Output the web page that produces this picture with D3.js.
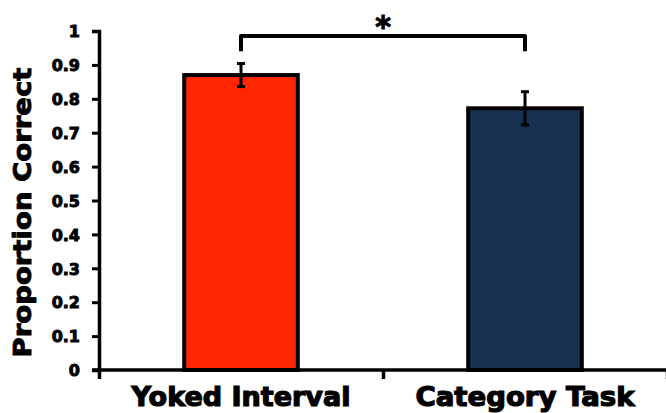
<!DOCTYPE html>
<html>
<head>
<meta charset="utf-8">
<script src="https://cdn.jsdelivr.net/npm/d3@7"></script>
<style>
  body { margin: 0; background: #fff; }
  svg { display: block; }
  text { font-family: "DejaVu Sans", sans-serif; font-weight: bold; fill: #000; }
</style>
</head>
<body>
<svg id="chart"></svg>
<script>
  // chart data
  const categories = ["Yoked Interval", "Category Task"];
  const means = [0.87, 0.772];
  const errors = [0.034, 0.049];
  const barColors = ["#ff2600", "#17304f"];
  const yTicks = [0, 0.1, 0.2, 0.3, 0.4, 0.5, 0.6, 0.7, 0.8, 0.9, 1];
  const yTitle = "Proportion Correct";
  const sigLabel = "*";

  const width = 666;
  const height = 413;
  const margin = { top: 31, right: -1, bottom: 43, left: 99 };

  const svg = d3.select("#chart")
    .attr("width", width)
    .attr("height", height);

  const x = d3.scaleBand()
    .domain(categories)
    .range([margin.left, width - margin.right])
    .padding(0);

  const y = d3.scaleLinear()
    .domain([0, 1])
    .range([height - margin.bottom, margin.top]);

  const barW = x.bandwidth() * 0.4;
  const cx = d => x(d) + x.bandwidth() / 2;

  // bars
  svg.append("g")
    .selectAll("rect")
    .data(categories)
    .join("rect")
      .attr("x", d => cx(d) - barW / 2)
      .attr("y", (d, i) => y(means[i]))
      .attr("width", barW)
      .attr("height", (d, i) => y(0) - y(means[i]))
      .attr("fill", (d, i) => barColors[i])
      .attr("stroke", "#000")
      .attr("stroke-width", 4);

  // error bars
  const err = svg.append("g")
    .selectAll("g")
    .data(categories)
    .join("g")
      .attr("stroke", "#000")
      .attr("stroke-width", 3);

  err.append("line")
    .attr("x1", d => cx(d))
    .attr("x2", d => cx(d))
    .attr("y1", (d, i) => y(means[i] + errors[i]))
    .attr("y2", (d, i) => y(means[i] - errors[i]));

  [1, -1].forEach(s => {
    err.append("line")
      .attr("x1", d => cx(d) - 4)
      .attr("x2", d => cx(d) + 4)
      .attr("y1", (d, i) => y(means[i] + s * errors[i]))
      .attr("y2", (d, i) => y(means[i] + s * errors[i]));
  });

  // y axis
  svg.append("g")
    .attr("transform", `translate(${margin.left},0)`)
    .call(d3.axisLeft(y).tickValues(yTicks).tickSize(7).tickPadding(12)
      .tickFormat(d => d === 0 || d === 1 ? d : d3.format(".1f")(d)))
    .call(g => g.select(".domain").attr("stroke-width", 3.5))
    .call(g => g.selectAll(".tick line").attr("stroke-width", 3))
    .call(g => g.selectAll(".tick text")
      .attr("font-size", 16)
      .attr("fill", "#000")
      .attr("stroke", "#000")
      .attr("stroke-width", 0.9)
      .attr("dy", "0.36em"));

  // x axis line + ticks at category boundaries
  const xEdges = d3.scaleLinear()
    .domain([0, categories.length])
    .range([margin.left, width - margin.right]);

  svg.append("g")
    .attr("transform", `translate(0,${y(0)})`)
    .call(d3.axisBottom(xEdges).ticks(categories.length).tickSize(9).tickFormat(""))
    .call(g => g.select(".domain").attr("stroke-width", 3.5).attr("d", `M${margin.left - 7},0H${width}`))
    .call(g => g.selectAll(".tick line").attr("stroke-width", 3.5));

  // x category labels
  svg.append("g")
    .selectAll("text")
    .data(categories)
    .join("text")
      .attr("x", d => cx(d))
      .attr("y", 406)
      .attr("text-anchor", "middle")
      .attr("textLength", 219)
      .attr("lengthAdjust", "spacingAndGlyphs")
      .attr("stroke", "#000")
      .attr("stroke-width", 1.2)
      .style("font-size", "26px")
      .text(d => d);

  // y title
  svg.append("text")
    .attr("transform", `translate(31,${(y(0) + y(1)) / 2 + 12}) rotate(-90)`)
    .attr("text-anchor", "middle")
    .attr("textLength", 290)
    .attr("lengthAdjust", "spacingAndGlyphs")
    .attr("stroke", "#000")
    .attr("stroke-width", 0.9)
    .style("font-size", "25px")
    .text(yTitle);

  // significance bracket
  const bY = y(0.985), legY = y(0.94);
  const b0 = cx(categories[0]), b1 = cx(categories[1]);
  svg.append("path")
    .attr("d", `M${b0},${legY}V${bY}H${b1}V${legY}`)
    .attr("fill", "none")
    .attr("stroke", "#000")
    .attr("stroke-width", 4)
    .attr("stroke-linejoin", "round");

  svg.append("text")
    .attr("x", (b0 + b1) / 2)
    .attr("y", 37)
    .attr("text-anchor", "middle")
    .attr("stroke", "#000")
    .attr("stroke-width", 1)
    .style("font-size", "30px")
    .text(sigLabel);
</script>
</body>
</html>
